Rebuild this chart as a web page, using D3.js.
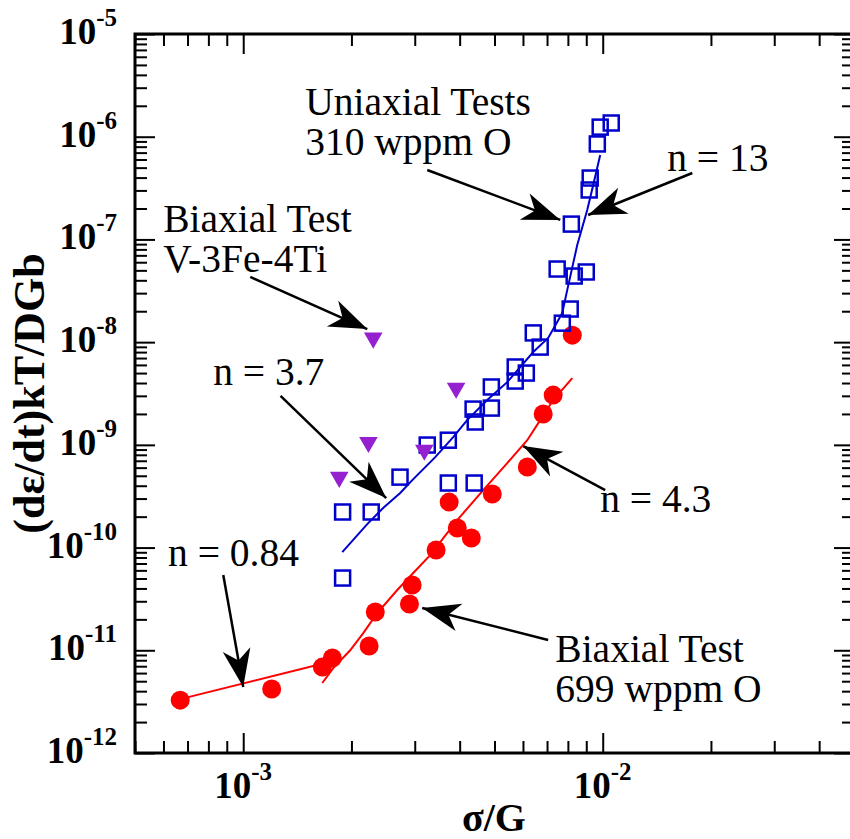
<!DOCTYPE html>
<html>
<head>
<meta charset="utf-8">
<script src="https://cdn.jsdelivr.net/npm/d3@7"></script>
<style>
  body { margin: 0; background: #fff; }
  svg { display: block; }
  svg text { font-family: "Liberation Serif", "Times New Roman", Times, serif; }
</style>
</head>
<body>
<svg id="chart" width="850" height="839"></svg>
<script>
// ---- Uniaxial tests, 310 wppm O (open blue squares) ----
const uniaxialStress = [0.00189, 0.00189, 0.00227, 0.00273, 0.00325, 0.00372, 0.00372, 0.00436, 0.00439, 0.00442,
  0.0049, 0.0049, 0.00571, 0.00571, 0.00613, 0.00641, 0.0067, 0.00747, 0.00772, 0.00812,
  0.00818, 0.00833, 0.0090, 0.00917, 0.00923, 0.00966, 0.00984, 0.01056];
const uniaxialRate = [5.05e-11, 2.22e-10, 2.22e-10, 4.85e-10, 9.96e-10, 1.11e-9, 4.25e-10, 2.23e-9, 4.25e-10, 1.67e-9,
  3.66e-9, 2.28e-9, 5.73e-9, 4.18e-9, 5.0e-9, 1.23e-8, 8.95e-9, 5.15e-8, 1.53e-8, 2.1e-8,
  1.41e-7, 4.4e-8, 4.82e-8, 3.03e-7, 3.96e-7, 8.5e-7, 1.24e-6, 1.36e-6];

// ---- Biaxial test, V-3Fe-4Ti (purple down triangles) ----
const alloyStress = [0.00185, 0.00223, 0.0023, 0.00319, 0.00391];
const alloyRate = [4.85e-10, 1.06e-9, 1.1e-8, 8.9e-10, 3.57e-9];

// ---- Biaxial test, 699 wppm O (red circles) ----
const biaxialStress = [0.000668, 0.0012, 0.00166, 0.00177, 0.00224, 0.00233, 0.0029, 0.00295, 0.00344,
  0.00374, 0.00394, 0.00431, 0.00493, 0.00617, 0.00683, 0.00728, 0.00823];
const biaxialRate = [3.27e-12, 4.19e-12, 6.86e-12, 8.4e-12, 1.1e-11, 2.36e-11, 2.82e-11, 4.32e-11, 9.46e-11,
  2.77e-10, 1.55e-10, 1.24e-10, 3.32e-10, 6.08e-10, 2.0e-9, 3.05e-9, 1.17e-8];

// ---- Fitted curves ----
const lowFitStress = [0.000703, 0.00178];
const lowFitRate = [3.5e-12, 7.85e-12];
const biaxialFitStress = [0.001659, 0.00178, 0.001984, 0.002157, 0.002359, 0.002682, 0.002971, 0.003312,
  0.003938, 0.004652, 0.005424, 0.006166, 0.0067, 0.00728, 0.00823];
const biaxialFitRate = [4.80e-12, 6.71e-12, 1.0e-11, 1.47e-11, 2.30e-11, 3.86e-11, 5.65e-11, 8.45e-11,
  1.85e-10, 3.63e-10, 6.65e-10, 1.11e-9, 1.74e-9, 2.73e-9, 4.47e-9];
const uniaxialFitStress = [0.001886, 0.002213, 0.00245, 0.002733, 0.002953, 0.003421, 0.003838, 0.004197,
  0.004772, 0.005424, 0.006408, 0.007053, 0.007716, 0.007966, 0.008494, 0.009055, 0.00941, 0.00984];
const uniaxialFitRate = [9.03e-11, 1.69e-10, 2.43e-10, 3.40e-10, 4.54e-10, 7.6e-10, 1.19e-9, 1.74e-9,
  2.73e-9, 4.08e-9, 8.02e-9, 1.10e-8, 1.92e-8, 3.21e-8, 8.81e-8, 1.93e-7, 3.39e-7, 6.64e-7];

// ---- Axis ticks ----
const xMajorTicks = [1e-3, 1e-2];
const xTickExponents = ["-3", "-2"];
const yMajorTicks = [1e-12, 1e-11, 1e-10, 1e-9, 1e-8, 1e-7, 1e-6, 1e-5];
const yTickExponents = ["-12", "-11", "-10", "-9", "-8", "-7", "-6", "-5"];

// ---- Annotations (data coordinates) ----
const labels = [
  { at: [1.487e-3, 1.627e-6], lines: ["Uniaxial Tests", "310 wppm O"] },
  { at: [5.99e-4, 1.18e-7], lines: ["Biaxial Test", "V-3Fe-4Ti"] },
  { at: [1.511e-2, 4.64e-7], lines: ["n = 13"] },
  { at: [8.25e-4, 3.82e-9], lines: ["n = 3.7"] },
  { at: [9.84e-3, 2.22e-10], lines: ["n = 4.3"] },
  { at: [6.18e-4, 6.6e-11], lines: ["n = 0.84"] },
  { at: [7.38e-3, 7.67e-12], lines: ["Biaxial Test", "699 wppm O"] }
];
const arrows = [
  { from: [3.25e-3, 4.74e-7], to: [7.62e-3, 1.55e-7] },
  { from: [1.775e-2, 4.43e-7], to: [9.11e-3, 1.73e-7] },
  { from: [1.046e-3, 4.31e-8], to: [2.213e-3, 1.34e-8] },
  { from: [1.27e-3, 3.0e-9], to: [2.499e-3, 3.03e-10] },
  { from: [1.016e-2, 3.63e-10], to: [6.01e-3, 9.72e-10] },
  { from: [7.05e-3, 1.26e-11], to: [3.147e-3, 2.58e-11] },
  { from: [8.8e-4, 5.4e-11], to: [1e-3, 4.39e-12] }
];

(function () {
  const svg = d3.select("#chart");
  const plotLeft = 135, plotRight = 854, plotTop = 34, plotBottom = 753;

  const x = d3.scaleLog().domain([5e-4, 5e-2]).range([plotLeft, plotRight]);
  const y = d3.scaleLog().domain([1e-12, 1e-5]).range([plotBottom, plotTop]);

  const BLUE = "#0000cc", RED = "#ff0000", PURPLE = "#9420d0";

  // ---- Tick marks on all four sides, pointing inward ----
  const isMajor = (list, v) => list.some(m => Math.abs(m - v) / m < 1e-6);
  const xMinor = x.ticks().filter(v => !isMajor(xMajorTicks, v));
  const yMinor = y.ticks().filter(v => !isMajor(yMajorTicks, v));

  function drawAxis(axisFn, scale, values, size, transform) {
    const g = svg.append("g")
      .attr("transform", transform)
      .call(axisFn(scale).tickValues(values).tickSizeInner(-size).tickSizeOuter(0).tickFormat(""));
    g.select(".domain").remove();
    g.selectAll(".tick line").attr("stroke", "#000").attr("stroke-width", 2);
  }
  drawAxis(d3.axisBottom, x, xMinor, 12, `translate(0,${plotBottom})`);
  drawAxis(d3.axisBottom, x, xMajorTicks, 20, `translate(0,${plotBottom})`);
  drawAxis(d3.axisTop, x, xMinor, 12, `translate(0,${plotTop})`);
  drawAxis(d3.axisTop, x, xMajorTicks, 20, `translate(0,${plotTop})`);
  drawAxis(d3.axisLeft, y, yMinor, 12, `translate(${plotLeft},0)`);
  drawAxis(d3.axisLeft, y, yMajorTicks, 20, `translate(${plotLeft},0)`);
  drawAxis(d3.axisRight, y, yMinor, 12, `translate(${plotRight},0)`);
  drawAxis(d3.axisRight, y, yMajorTicks, 20, `translate(${plotRight},0)`);

  svg.append("rect")
    .attr("x", plotLeft).attr("y", plotTop)
    .attr("width", plotRight - plotLeft).attr("height", plotBottom - plotTop)
    .attr("fill", "none").attr("stroke", "#000").attr("stroke-width", 3);

  // ---- Tick labels: 10 with superscript exponent ----
  const yLab = svg.append("g").attr("font-weight", "bold").attr("fill", "#000");
  yMajorTicks.forEach((v, i) => {
    const t = yLab.append("text")
      .attr("x", plotLeft - 18).attr("y", y(v) + 10)
      .attr("text-anchor", "end");
    t.append("tspan").attr("font-size", 37).text("10");
    t.append("tspan").attr("font-size", 25).attr("dy", -18).text(yTickExponents[i]);
  });
  const xLab = svg.append("g").attr("font-weight", "bold").attr("fill", "#000");
  xMajorTicks.forEach((v, i) => {
    const t = xLab.append("text")
      .attr("x", x(v)).attr("y", plotBottom + 45)
      .attr("text-anchor", "middle");
    t.append("tspan").attr("font-size", 37).text("10");
    t.append("tspan").attr("font-size", 25).attr("dy", -18).text(xTickExponents[i]);
  });

  // ---- Axis titles ----
  svg.append("text")
    .attr("transform", `translate(44,${(plotTop + plotBottom) / 2}) rotate(-90)`)
    .attr("text-anchor", "middle")
    .attr("font-weight", "bold").attr("font-size", 44)
    .text("(dε/dt)kT/DGb");
  svg.append("text")
    .attr("x", 494).attr("y", 831)
    .attr("text-anchor", "middle")
    .attr("font-weight", "bold").attr("font-size", 40)
    .text("σ/G");

  // ---- Fitted curves and data ----
  const line = d3.line().x(d => x(d[0])).y(d => y(d[1]));
  const zip = (a, b) => a.map((v, i) => [v, b[i]]);
  const plot = svg.append("g");

  plot.append("path").datum(zip(lowFitStress, lowFitRate))
    .attr("d", line).attr("fill", "none").attr("stroke", RED).attr("stroke-width", 2);
  plot.append("path").datum(zip(biaxialFitStress, biaxialFitRate))
    .attr("d", line).attr("fill", "none").attr("stroke", RED).attr("stroke-width", 2);

  plot.append("g").selectAll("circle").data(zip(biaxialStress, biaxialRate)).join("circle")
    .attr("cx", d => x(d[0])).attr("cy", d => y(d[1])).attr("r", 9.5).attr("fill", RED);

  plot.append("path").datum(zip(uniaxialFitStress, uniaxialFitRate))
    .attr("d", line).attr("fill", "none").attr("stroke", BLUE).attr("stroke-width", 2);

  const sq = 15;
  plot.append("g").selectAll("rect").data(zip(uniaxialStress, uniaxialRate)).join("rect")
    .attr("x", d => x(d[0]) - sq / 2).attr("y", d => y(d[1]) - sq / 2)
    .attr("width", sq).attr("height", sq)
    .attr("fill", "none").attr("stroke", BLUE).attr("stroke-width", 2.5);

  const tri = d3.symbol().type(d3.symbolTriangle).size(150);
  plot.append("g").selectAll("path").data(zip(alloyStress, alloyRate)).join("path")
    .attr("d", tri)
    .attr("transform", d => `translate(${x(d[0])},${y(d[1])}) rotate(180)`)
    .attr("fill", PURPLE);

  // ---- Annotation arrows and labels ----
  const defs = svg.append("defs");
  defs.append("marker")
    .attr("id", "head").attr("markerUnits", "userSpaceOnUse")
    .attr("viewBox", "-42 -17 44 34").attr("refX", 0).attr("refY", 0)
    .attr("markerWidth", 44).attr("markerHeight", 34).attr("orient", "auto")
    .append("path").attr("d", "M0,0 L-38,-14 L-27,0 L-38,14 Z").attr("fill", "#000");

  const ann = svg.append("g");
  arrows.forEach(a => {
    ann.append("line")
      .attr("x1", x(a.from[0])).attr("y1", y(a.from[1]))
      .attr("x2", x(a.to[0])).attr("y2", y(a.to[1]))
      .attr("stroke", "#000").attr("stroke-width", 2.5)
      .attr("marker-end", "url(#head)");
  });

  // each label line is its own text element
  labels.forEach(l => {
    l.lines.forEach((s, i) => {
      ann.append("text")
        .attr("x", x(l.at[0])).attr("y", y(l.at[1]) + i * 40)
        .attr("font-size", 39.5).attr("fill", "#000")
        .text(s);
    });
  });
})();
</script>
</body>
</html>
